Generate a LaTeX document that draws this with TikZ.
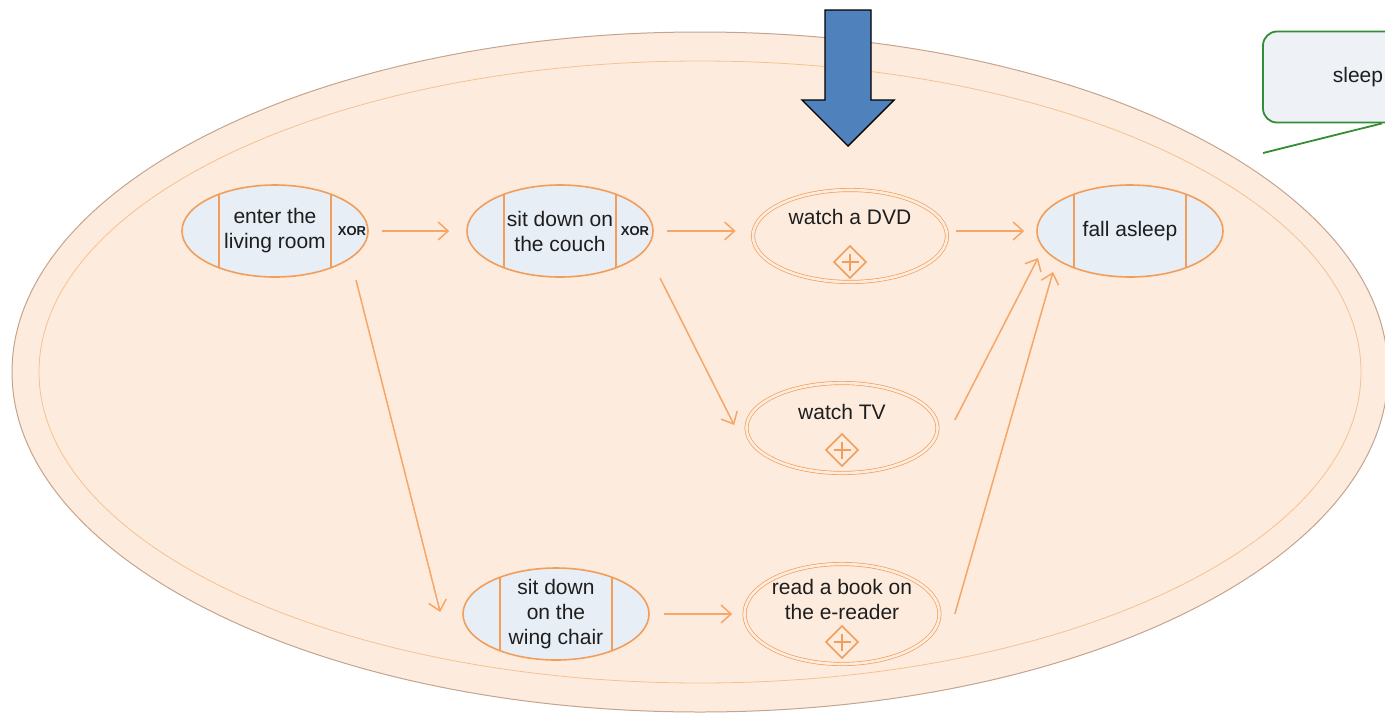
\documentclass[tikz,border=0pt]{standalone}
\usepackage{fontspec}
\setmainfont{Liberation Sans}
\usetikzlibrary{arrows.meta,shapes.geometric}

\definecolor{peach}{RGB}{253,236,222}
\definecolor{ringline}{RGB}{196,164,142}
\definecolor{ringinner}{RGB}{246,192,145}
\definecolor{taskfill}{RGB}{231,238,246}
\definecolor{bpmnorange}{RGB}{242,158,90}
\definecolor{flowcol}{RGB}{245,166,104}
\definecolor{arrowblue}{RGB}{79,129,189}
\definecolor{calloutgreen}{RGB}{52,140,52}
\definecolor{calloutfill}{RGB}{238,241,246}
\definecolor{textcol}{RGB}{30,30,30}

\tikzset{
  lbl/.style={font=\fontsize{21}{25}\selectfont, text=textcol, align=center},
  xorlbl/.style={font=\fontsize{13}{15}\selectfont\bfseries, text=textcol, inner sep=0pt},
  task/.style={ellipse, draw=bpmnorange, line width=1.6pt, fill=taskfill,
    minimum width=186pt, minimum height=92pt, inner sep=0pt, lbl,
    path picture={
      \draw[bpmnorange, line width=1.6pt]
        ([xshift=-56pt]path picture bounding box.north) -- ([xshift=-56pt]path picture bounding box.south)
        ([xshift=56pt]path picture bounding box.north) -- ([xshift=56pt]path picture bounding box.south);
    }},
  subproc/.style={ellipse, draw=bpmnorange, line width=0.7pt, double=peach,
    double distance=2.6pt, fill=peach, minimum width=194pt, minimum height=92pt,
    inner sep=0pt,
    path picture={
      \draw[bpmnorange, line width=1.5pt, fill=peach, line join=miter]
        ([yshift=-#1pt]path picture bounding box.center) ++(0pt,16pt)
        -- ++(16pt,-16pt) -- ++(-16pt,-16pt) -- ++(-16pt,16pt) -- cycle;
      \draw[bpmnorange, line width=1.8pt]
        ([yshift=-#1pt]path picture bounding box.center) ++(-8.5pt,0pt) -- ++(17pt,0pt)
        ++(-8.5pt,-8.5pt) -- ++(0pt,17pt);
    }},
  flow/.style={draw=flowcol, line width=1.5pt,
    -{Straight Barb[length=10pt,width=18pt]}},
  callout/.style={rectangle, rounded corners=14pt, draw=calloutgreen,
    line width=1.8pt, fill=calloutfill, minimum width=190pt,
    minimum height=91pt, lbl}
}

\begin{document}
\begin{tikzpicture}[x=1pt,y=-1pt]
\useasboundingbox (0,0) rectangle (1385,713);
\clip (0,0) rectangle (1385,713);

% pool of the process
\draw[ringline, line width=1pt, fill=peach]
  (700,372) ellipse [x radius=688pt, y radius=340pt];
\draw[ringinner, line width=0.8pt]
  (700,372) ellipse [x radius=661pt, y radius=311pt];

% activities
\node[task] (enter) at (275,231) {enter the\\living room};
\node[task] (couch) at (560,231) {sit down on\\the couch};
\node[task] (asleep) at (1130,231) {fall asleep};
\node[task, inner ysep=-10pt] (wing) at (556,614) {sit down\\on the\\wing chair};

\node[xorlbl] (enterxor) at ([xshift=77pt]enter.center) {XOR};
\node[xorlbl] (couchxor) at ([xshift=75pt]couch.center) {XOR};

% collapsed sub-processes
\node[subproc=26] (dvd) at (850,236) {};
\node[subproc=22, minimum width=191pt, minimum height=90pt] (tv) at (842,428) {};
\node[subproc=28, minimum width=195pt, minimum height=100pt] (read) at (842,614) {};

\node[lbl] (dvdtext) at ([yshift=19pt]dvd.center) {watch a DVD};
\node[lbl] (tvtext) at ([yshift=16pt]tv.center) {watch TV};
\node[lbl] (readtext) at ([yshift=15pt]read.center) {read a book on\\the e-reader};

% sequence flows
\draw[flow, shorten <=13pt, shorten >=17pt] (enter.east) -- (couch.west);
\draw[flow, shorten <=13pt, shorten >=17pt] (couch.east) -- (couch.east -| dvd.west);
\draw[flow, shorten <=9pt, shorten >=12pt] (dvd.east |- asleep.west) -- (asleep.west);
\draw[flow, shorten <=14pt, shorten >=12pt] (wing.east) -- (wing.east -| read.west);
\draw[flow] ([shift={(81,49)}]enter.center) -- ([shift={(-22,-2)}]wing.west);
\draw[flow] ([shift={(100,47)}]couch.center) -- ([shift={(-12,-3)}]tv.west);
\draw[flow] ([shift={(17,-8)}]tv.east) -- ([shift={(-92,27)}]asleep.center);
\draw[flow] ([xshift=15pt]read.east) -- ([shift={(-77,41)}]asleep.center);

% marker arrow
\draw[fill=arrowblue, line width=1.4pt, line join=miter]
  (825,10) -- (871,10) -- (871,100) -- (894,100) -- (848,146)
  -- (802,100) -- (825,100) -- cycle;

% callout with its pointer line
\node[callout] (sleep) at (1358,77) {sleep};
\coordinate (sleeptip) at (1263,153);
\draw[calloutgreen, line width=1.8pt] ([xshift=24pt]sleep.south) -- (sleeptip);
\end{tikzpicture}
\end{document}
